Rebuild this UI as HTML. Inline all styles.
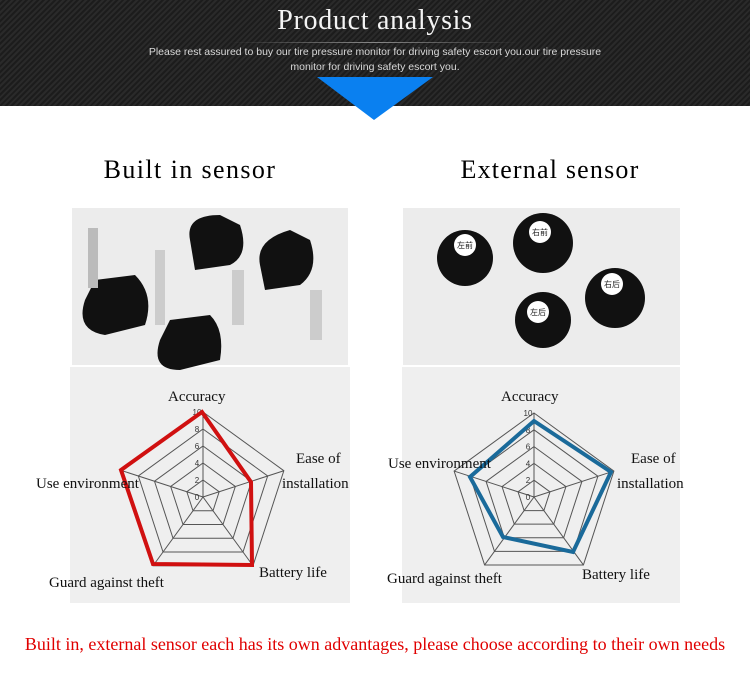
<!DOCTYPE html>
<html><head><meta charset="utf-8"><style>
body{margin:0;width:750px;height:689px;background:#fff;position:relative;overflow:hidden;font-family:"Liberation Serif",serif}
.hdr{position:absolute;left:0;top:0;width:750px;height:106px;background:repeating-linear-gradient(135deg,#2a2a2a 0 2px,#1c1c1c 2px 4px)}
.t{position:absolute;color:#fff}
</style></head><body>
<div class="hdr"></div>
<div class="t" style="left:0;width:750px;top:5px;text-align:center;font-size:28px;letter-spacing:0.7px;color:#f4f4f4">Product analysis</div>
<div style="position:absolute;left:230px;top:42px;width:290px;height:1px;background:linear-gradient(90deg,transparent,#888,transparent)"></div>
<div class="t" style="left:145px;width:460px;top:45px;text-align:center;font-family:'Liberation Sans',sans-serif;font-size:10.5px;line-height:15px;color:#d8d8d8">Please rest assured to buy our tire pressure monitor for driving safety escort you.our tire pressure monitor for driving safety escort you.</div>
<svg width="750" height="689" style="position:absolute;left:0;top:0" id="s">
<polygon points="317,77 433,77 374,120" fill="#0a80f0"/>
<rect x="72" y="208" width="276" height="157" fill="#ececec"/>
<rect x="403" y="208" width="277" height="157" fill="#ececec"/>
<rect x="70" y="367" width="280" height="236" fill="#efefef"/>
<rect x="402" y="367" width="278" height="236" fill="#efefef"/>
<g fill="#111">
<path d="M85 300 q-10 30 20 35 l40 -10 q10 -30 -10 -50 l-40 5z"/><rect x="88" y="228" width="10" height="60" fill="#bbb"/>
<path d="M160 340 q-10 30 20 30 l40 -10 q5 -30 -10 -45 l-40 5z"/><rect x="155" y="250" width="10" height="75" fill="#ccc"/>
<path d="M190 240 q-5 -25 30 -25 l20 10 q10 30 -10 40 l-35 5z"/><rect x="232" y="270" width="12" height="55" fill="#ccc"/>
<path d="M260 265 q-5 -25 30 -35 l20 10 q10 30 -10 45 l-35 5z"/><rect x="310" y="290" width="12" height="50" fill="#ccc"/>
<circle cx="465" cy="258" r="28"/><circle cx="543" cy="243" r="30"/><circle cx="615" cy="298" r="30"/><circle cx="543" cy="320" r="28"/>
</g>
<g fill="#fff"><circle cx="465" cy="245" r="11"/><circle cx="540" cy="232" r="11"/><circle cx="612" cy="284" r="11"/><circle cx="538" cy="312" r="11"/></g>
<g font-family="'Liberation Sans','Noto Sans CJK SC',sans-serif" font-size="8" text-anchor="middle" fill="#222">
<text x="465" y="248">左前</text><text x="540" y="235">右前</text><text x="612" y="287">右后</text><text x="538" y="315">左后</text></g>
</svg>
<div style="position:absolute;left:0;width:380px;top:155px;text-align:center;font-size:26px;letter-spacing:1.4px">Built in sensor</div>
<div style="position:absolute;left:360px;width:380px;top:155px;text-align:center;font-size:26px;letter-spacing:1.2px">External sensor</div>
<div style="position:absolute;left:0;width:750px;top:634px;text-align:center;font-size:18px;color:#e00000">Built in, external sensor each has its own advantages, please choose according to their own needs</div>
<script>
var s=document.getElementById('s'),NS='http://www.w3.org/2000/svg';
var U=[[0,-1],[0.951,-0.309],[0.588,0.809],[-0.588,0.809],[-0.951,-0.309]];
function el(t,a,txt){var e=document.createElementNS(NS,t);for(var k in a)e.setAttribute(k,a[k]);if(txt)e.textContent=txt;s.appendChild(e);return e;}
function radar(cx,cy,R,vals,col,labels){
 for(var i=1;i<=5;i++){var p=U.map(u=>(cx+u[0]*R*i/5)+','+(cy+u[1]*R*i/5)).join(' ');el('polygon',{points:p,fill:'none',stroke:'#555','stroke-width':1});}
 U.forEach(u=>el('line',{x1:cx,y1:cy,x2:cx+u[0]*R,y2:cy+u[1]*R,stroke:'#555','stroke-width':1}));
 for(var i=0;i<=5;i++)el('text',{x:cx-6,y:cy-R*i/5+3,'font-size':8,'font-family':'Liberation Sans,sans-serif','text-anchor':'middle',fill:'#333'},String(i*2));
 el('polygon',{points:vals.map(v=>v.join(',')).join(' '),fill:'none',stroke:col,'stroke-width':4});
 labels.forEach(l=>el('text',{x:l[0],y:l[1],'font-size':15,'font-family':'Liberation Serif,serif',fill:'#111'},l[2]));
}
radar(203,497,85,[[202,412],[251,482],[252,565],[153,564],[121,470]],'#d01010',
[[168,401,'Accuracy'],[296,463,'Ease of'],[282,488,'installation'],[259,577,'Battery life'],[49,587,'Guard against theft'],[36,488,'Use environment']]);
radar(534,497,84,[[534,421],[611,472],[573,552],[503,537],[470,477]],'#1a6a9a',
[[501,401,'Accuracy'],[631,463,'Ease of'],[617,488,'installation'],[582,579,'Battery life'],[387,583,'Guard against theft'],[388,468,'Use environment']]);
</script>
</body></html>
